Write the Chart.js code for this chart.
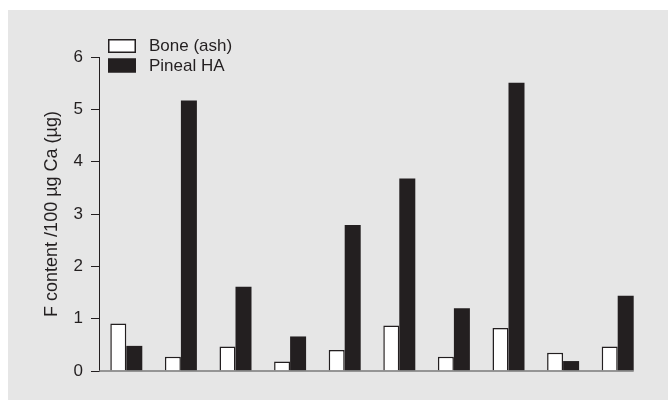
<!DOCTYPE html>
<html>
<head>
<meta charset="utf-8">
<script src="https://cdn.jsdelivr.net/npm/chart.js@4/dist/chart.umd.min.js"></script>
<style>
  html, body { margin: 0; padding: 0; background: #ffffff; }
  #wrap { width: 668px; height: 400px; }
</style>
</head>
<body>
<div id="wrap"><canvas id="chart" width="668" height="400"></canvas></div>
<script>
const categories = ['1', '2', '3', '4', '5', '6', '7', '8', '9', '10'];
const boneAsh = [0.91, 0.27, 0.47, 0.18, 0.40, 0.87, 0.27, 0.82, 0.35, 0.47];
const pinealHA = [0.48, 5.17, 1.61, 0.66, 2.79, 3.68, 1.20, 5.51, 0.19, 1.44];
const yTicks = [0, 1, 2, 3, 4, 5, 6];
const seriesNames = ['Bone (ash)', 'Pineal HA'];

const ink = '#231f20';
const fontFamily = '"Liberation Sans", Arial, Helvetica, sans-serif';

// grey panel behind the plot
const panel = {
    id: 'panel',
    beforeDraw(chart) {
        const ctx = chart.ctx;
        ctx.save();
        ctx.fillStyle = '#e6e6e6';
        ctx.fillRect(8, 10, chart.width - 8, chart.height - 10);
        ctx.restore();
    }
};

// x axis line stops at the last bar
const baseLine = {
    id: 'baseLine',
    afterDatasetsDraw(chart) {
        const meta = chart.getDatasetMeta(1);
        const last = meta.data[meta.data.length - 1];
        const y = chart.scales.y.getPixelForValue(0);
        const ctx = chart.ctx;
        ctx.save();
        ctx.strokeStyle = '#7a7a7a';
        ctx.lineWidth = 1.5;
        ctx.beginPath();
        ctx.moveTo(chart.chartArea.left, y);
        ctx.lineTo(last.x + last.width / 2, y);
        ctx.stroke();
        ctx.restore();
    }
};

// stacked legend in the top-left corner
const boxLegend = {
    id: 'boxLegend',
    afterDraw(chart) {
        const ctx = chart.ctx;
        ctx.save();
        ctx.font = '17px ' + fontFamily;
        ctx.textBaseline = 'middle';
        chart.data.datasets.forEach((ds, i) => {
            const top = 39 + i * 19.5;
            ctx.fillStyle = ds.backgroundColor;
            ctx.fillRect(108, top, 28, 14);
            ctx.strokeStyle = ink;
            ctx.lineWidth = 1.5;
            ctx.strokeRect(108.75, top + 0.75, 26.5, 12.5);
            ctx.fillStyle = ink;
            ctx.fillText(ds.label, 149, top + 7.5);
        });
        ctx.restore();
    }
};

new Chart(document.getElementById('chart'), {
    type: 'bar',
    data: {
        labels: categories,
        datasets: [{
            label: seriesNames[0],
            data: boneAsh,
            backgroundColor: '#ffffff',
            borderColor: ink,
            borderWidth: 1.5
        }, {
            label: seriesNames[1],
            data: pinealHA,
            backgroundColor: ink,
            borderColor: ink,
            borderWidth: 0
        }]
    },
    options: {
        responsive: false,
        animation: false,
        devicePixelRatio: 1,
        categoryPercentage: 0.586,
        barPercentage: 1,
        layout: {
            padding: { left: 0, top: 57, right: 23, bottom: 29 }
        },
        plugins: {
            legend: { display: false },
            tooltip: { enabled: false }
        },
        scales: {
            x: {
                display: false
            },
            y: {
                min: 0,
                max: 6,
                afterBuildTicks: (axis) => {
                    axis.ticks = yTicks.map(v => ({ value: v }));
                },
                afterFit: (axis) => {
                    axis.width = 99;
                },
                grid: {
                    drawOnChartArea: false,
                    drawTicks: true,
                    tickLength: 8,
                    tickColor: ink,
                    tickWidth: 1
                },
                border: {
                    display: true,
                    color: ink,
                    width: 1
                },
                ticks: {
                    color: ink,
                    padding: 8,
                    font: { family: fontFamily, size: 17 }
                },
                title: {
                    display: true,
                    text: 'F content /100 µg Ca (µg)',
                    color: ink,
                    padding: { top: 41, bottom: 0 },
                    font: { family: fontFamily, size: 18 }
                }
            }
        }
    },
    plugins: [panel, baseLine, boxLegend]
});
</script>
</body>
</html>
